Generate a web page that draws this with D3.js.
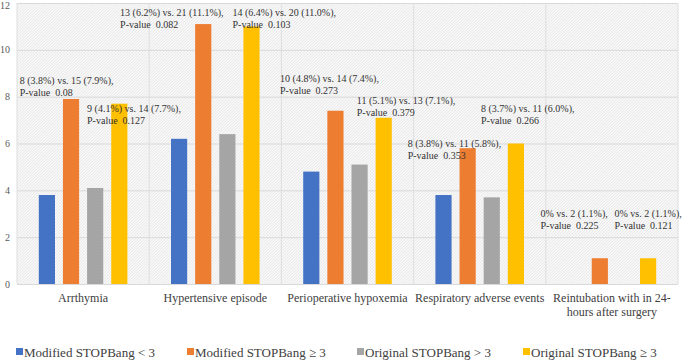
<!DOCTYPE html>
<html>
<head>
    <title>STOPBang outcomes</title>
    <script src="https://cdnjs.cloudflare.com/ajax/libs/d3/7.8.5/d3.min.js"></script>
    <style>
        body { margin: 0; background: #fff; }
        .tick-label { font-family: "Liberation Serif", serif; font-size: 10px; fill: #595959; }
        .cat-label { font-family: "Liberation Serif", serif; font-size: 12px; fill: #404040; }
        .note { font-family: "Liberation Serif", serif; font-size: 10px; fill: #333; }
        .legend-label { font-family: "Liberation Serif", serif; font-size: 13px; fill: #404040; }
    </style>
</head>
<body>
    <div id="chart"></div>
    <script>
        // categories and series
        const categories = [
            ["Arrthymia"],
            ["Hypertensive episode"],
            ["Perioperative hypoxemia"],
            ["Respiratory adverse events"],
            ["Reintubation with in 24-", "hours after surgery"]
        ];
        const seriesNames = ["Modified STOPBang < 3", "Modified STOPBang \u2265 3", "Original STOPBang > 3", "Original STOPBang \u2265 3"];
        const seriesColors = ["#4472C4", "#ED7D31", "#A5A5A5", "#FFC000"];
        const modLow  = [3.8, 6.2, 4.8, 3.8, 0];
        const modHigh = [7.9, 11.1, 7.4, 5.8, 1.1];
        const origLow = [4.1, 6.4, 5.1, 3.7, 0];
        const origHigh = [7.7, 11.0, 7.1, 6.0, 1.1];
        const yTicks = [0, 2, 4, 6, 8, 10, 12];

        // annotation text: category index, offset in band widths, y in data units
        const noteCat = [0, 0, 1, 1, 2, 2, 3, 3, 4, 4];
        const noteOffset = [0.02, 0.53, -0.22, 0.63, -0.01, 0.57, -0.045, 0.51, -0.04, 0.52];
        const noteY = [8.71, 7.52, 11.61, 11.61, 8.80, 7.86, 6.02, 7.52, 3.03, 3.03];
        const noteLine1 = [
            "8 (3.8%) vs. 15 (7.9%),", "9 (4.1%) vs. 14 (7.7%),",
            "13 (6.2%) vs. 21 (11.1%),", "14 (6.4%) vs. 20 (11.0%),",
            "10 (4.8%) vs. 14 (7.4%),", "11 (5.1%) vs. 13 (7.1%),",
            "8 (3.8%) vs. 11 (5.8%),", "8 (3.7%) vs. 11 (6.0%),",
            "0% vs. 2 (1.1%),", "0% vs. 2 (1.1%),"
        ];
        const noteLine2 = [
            "P-value  0.08", "P-value  0.127", "P-value  0.082", "P-value  0.103",
            "P-value  0.273", "P-value  0.379", "P-value  0.353", "P-value  0.266",
            "P-value  0.225", "P-value  0.121"
        ];

        const values = [modLow, modHigh, origLow, origHigh];
        const W = 685, H = 360;
        const margin = { top: 3, right: 7, bottom: 76, left: 17 };
        const innerW = W - margin.left - margin.right;
        const innerH = H - margin.top - margin.bottom;

        const svg = d3.select('#chart').append('svg')
            .attr('width', W).attr('height', H);

        const defs = svg.append('defs');
        const pat = defs.append('pattern')
            .attr('id', 'hatch').attr('patternUnits', 'userSpaceOnUse')
            .attr('width', 3).attr('height', 3);
        pat.append('rect').attr('width', 3).attr('height', 3).attr('fill', '#f7f7f7');
        pat.append('path').attr('d', 'M0,3 L3,0').attr('stroke', '#e9e9e9').attr('stroke-width', 1);

        const g = svg.append('g').attr('transform', `translate(${margin.left},${margin.top})`);

        const x0 = d3.scaleBand().domain(d3.range(categories.length)).range([0, innerW]).paddingInner(0).paddingOuter(0);
        const x1 = d3.scaleBand().domain(d3.range(seriesNames.length))
            .range([x0.bandwidth() * 0.165, x0.bandwidth() * 0.835]).paddingInner(0.33);
        const y = d3.scaleLinear().domain([0, 12]).range([innerH, 0]);

        g.append('rect').attr('width', innerW).attr('height', innerH).attr('fill', 'url(#hatch)');

        // horizontal gridlines
        g.append('g')
            .call(d3.axisLeft(y).tickValues(yTicks).tickSize(-innerW).tickFormat(''))
            .call(s => s.select('.domain').remove())
            .call(s => s.selectAll('line').attr('stroke', '#d9d9d9'));

        // vertical separators
        g.append('g').selectAll('line')
            .data(d3.range(categories.length + 1))
            .join('line')
            .attr('x1', i => i < categories.length ? x0(i) : innerW)
            .attr('x2', i => i < categories.length ? x0(i) : innerW)
            .attr('y1', 0).attr('y2', innerH)
            .attr('stroke', '#dedede');

        // y tick labels
        g.append('g').selectAll('text')
            .data(yTicks).join('text')
            .attr('class', 'tick-label')
            .attr('x', -7).attr('y', d => Math.max(y(d), 2)).attr('dy', '0.35em')
            .attr('text-anchor', 'end')
            .text(d => d);

        // bars
        const groups = g.append('g').selectAll('g')
            .data(categories.map((c, i) => i)).join('g')
            .attr('transform', i => `translate(${x0(i)},0)`);
        groups.selectAll('rect')
            .data(i => values.map((s, k) => ({ k, v: s[i] })))
            .join('rect')
            .attr('x', d => x1(d.k))
            .attr('width', x1.bandwidth())
            .attr('y', d => y(d.v))
            .attr('height', d => innerH - y(d.v))
            .attr('fill', d => seriesColors[d.k]);

        // category labels
        g.append('g').selectAll('text')
            .data(categories).join('text')
            .attr('class', 'cat-label')
            .attr('text-anchor', 'middle')
            .attr('x', (c, i) => x0(i) + x0.bandwidth() / 2)
            .attr('y', innerH + 18)
            .selectAll('tspan').data(c => c).join('tspan')
            .attr('x', function () { return d3.select(this.parentNode).attr('x'); })
            .attr('dy', (t, j) => j === 0 ? 0 : 14)
            .text(t => t);

        // annotations
        const notes = g.append('g').selectAll('text')
            .data(noteLine1.map((t, i) => i)).join('text')
            .attr('class', 'note')
            .attr('x', i => x0(noteCat[i]) + noteOffset[i] * x0.bandwidth())
            .attr('y', i => y(noteY[i]) + 4);
        notes.append('tspan').text(i => noteLine1[i]);
        notes.append('tspan')
            .attr('x', i => x0(noteCat[i]) + noteOffset[i] * x0.bandwidth())
            .attr('dy', 12)
            .style('white-space', 'pre')
            .text(i => noteLine2[i]);

        // legend
        const legendX = [16, 187, 357, 523];
        const legend = svg.append('g').selectAll('g')
            .data(seriesNames).join('g')
            .attr('transform', (d, i) => `translate(${legendX[i]},352)`);
        legend.append('rect').attr('x', 0).attr('y', -4).attr('width', 7).attr('height', 7)
            .attr('fill', (d, i) => seriesColors[i]);
        legend.append('text').attr('class', 'legend-label')
            .attr('x', 8).attr('y', 0).attr('dy', '0.35em')
            .text(d => d);
    </script>
</body>
</html>
